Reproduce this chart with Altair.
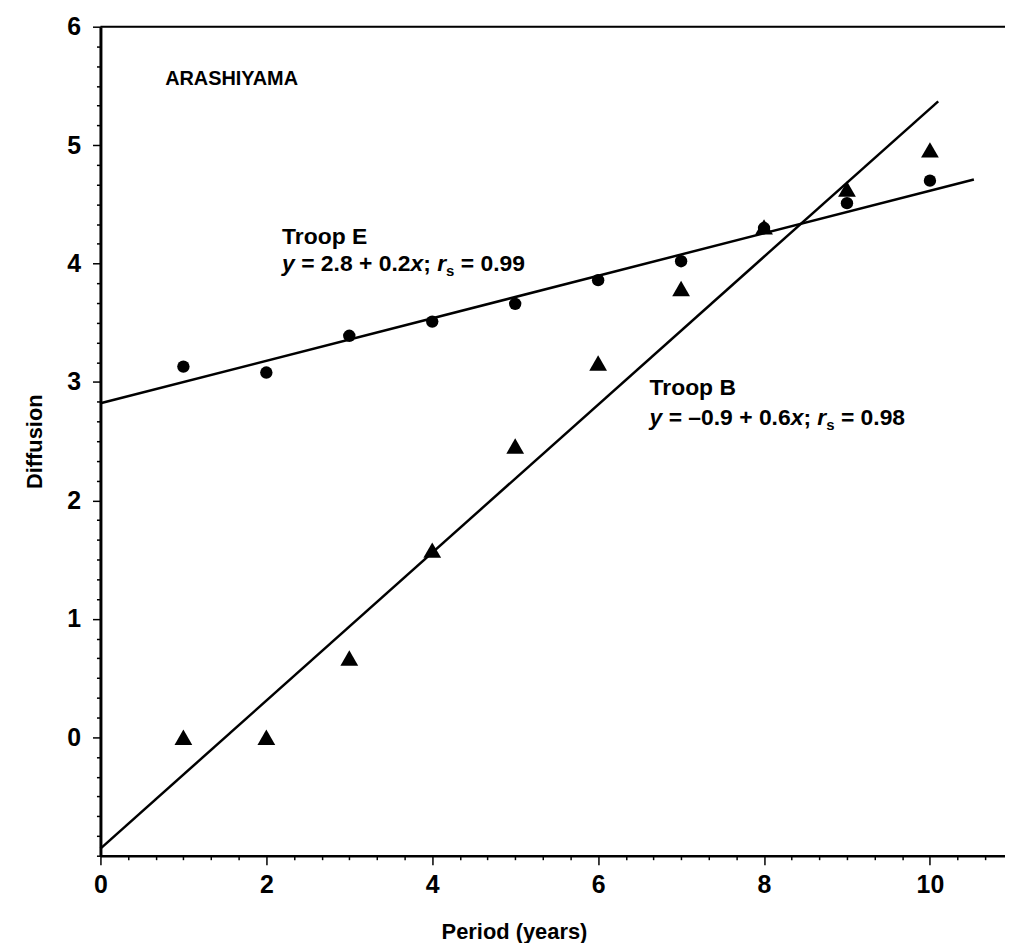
import altair as alt
import pandas as pd

# ---------------- data ----------------
period = [1, 2, 3, 4, 5, 6, 7, 8, 9, 10]
troop_e = [3.13, 3.08, 3.39, 3.51, 3.66, 3.86, 4.02, 4.30, 4.51, 4.70]
troop_b = [0.00, 0.00, 0.67, 1.58, 2.46, 3.16, 3.79, 4.31, 4.63, 4.96]

fit_e_x = [0.0, 10.53]
fit_e_y = [2.82, 4.71]
fit_b_x = [0.0, 10.10]
fit_b_y = [-0.94, 5.37]

x_tick_values = [round(i / 3, 4) for i in range(33)]
y_tick_values = [round(-1 + i / 6, 4) for i in range(43)]

x_domain = [0, 10.905]
y_domain = [-1, 6]

FONT = "Liberation Sans"
W, H = 910, 834

points = pd.DataFrame({
    "period": period + period,
    "value": troop_e + troop_b,
    "troop": ["E"] * len(period) + ["B"] * len(period),
})
fits = pd.DataFrame({
    "x": fit_e_x + fit_b_x,
    "y": fit_e_y + fit_b_y,
    "troop": ["E", "E", "B", "B"],
})

x_scale = alt.Scale(domain=x_domain, nice=False, zero=False)
y_scale = alt.Scale(domain=y_domain, nice=False, zero=False)

x_major = "abs(datum.value - round(datum.value)) < 0.01 && round(datum.value) % 2 === 0"
y_major = "abs(datum.value - round(datum.value)) < 0.01 && datum.value > -0.5"

x_axis = alt.Axis(
    values=x_tick_values, tickCount=len(x_tick_values) + 5,
    title="Period (years)", grid=False,
    labelExpr=f"({x_major}) ? format(round(datum.value), 'd') : ''",
    labelOverlap=False, labelFlush=False,
    tickSize={"condition": {"test": x_major, "value": 9}, "value": 4},
    tickWidth=1.5, tickColor="black",
    domainWidth=2.5, domainColor="black",
    labelFont=FONT, labelFontWeight="bold", labelFontSize=25, labelColor="black",
    labelPadding=8,
    titleFont=FONT, titleFontWeight="bold", titleFontSize=22, titleColor="black",
    titlePadding=24, titleX=416, titleAlign="center",
)
y_axis = alt.Axis(
    values=y_tick_values, tickCount=len(y_tick_values) + 5,
    title="Diffusion", grid=False,
    labelExpr=f"({y_major}) ? format(round(datum.value), 'd') : ''",
    labelOverlap=False, labelFlush=False,
    tickSize={"condition": {"test": y_major, "value": 8}, "value": 4},
    tickWidth=1.5, tickColor="black",
    domainWidth=3, domainColor="black",
    labelFont=FONT, labelFontWeight="bold", labelFontSize=25, labelColor="black",
    labelPadding=12,
    titleFont=FONT, titleFontWeight="bold", titleFontSize=22, titleColor="black",
    titlePadding=20,
)

base_pts = alt.Chart(points)
circles = base_pts.transform_filter(alt.datum.troop == "E").mark_point(
    shape="circle", filled=True, color="black", size=155, opacity=1
).encode(
    x=alt.X("period:Q", scale=x_scale, axis=x_axis),
    y=alt.Y("value:Q", scale=y_scale, axis=y_axis),
)
triangles = base_pts.transform_filter(alt.datum.troop == "B").mark_point(
    shape="triangle-up", filled=True, color="black", size=320, opacity=1
).encode(x="period:Q", y="value:Q")

lines = alt.Chart(fits).mark_line(color="black", strokeWidth=2.5).encode(
    x="x:Q", y="y:Q", detail="troop:N"
)

top_border = alt.Chart(pd.DataFrame({"a": [0]})).mark_rule(color="black", strokeWidth=2).encode(
    x=alt.datum(x_domain[0]), x2=alt.datum(x_domain[1]), y=alt.datum(y_domain[1])
)

# ---------------- annotations ----------------
WIDTHS = {" ": 278, "=": 584, "+": 584, ".": 278, ";": 333, "–": 556,
          "x": 556, "y": 556, "r": 389, "s": 556}
for d in "0123456789":
    WIDTHS[d] = 556


def text_width(s, size):
    return sum(WIDTHS.get(c, 556) for c in s) * size / 1000.0


def text_layer(x, y, text, size=22, style="normal", dx=0, dy=0):
    return alt.Chart(pd.DataFrame({"t": [text]})).mark_text(
        font=FONT, fontWeight="bold", fontStyle=style, fontSize=size,
        align="left", baseline="alphabetic", color="black", dx=dx, dy=dy,
    ).encode(x=alt.datum(x), y=alt.datum(y), text="t:N")


def equation(x, y, parts):
    layers = []
    offset = 0.0
    for txt, style, size, dy in parts:
        lead = len(txt) - len(txt.lstrip(" "))
        shown = txt.strip(" ")
        layers.append(text_layer(x, y, shown, size=size, style=style,
                                 dx=offset + text_width(" " * lead, size), dy=dy))
        offset += text_width(txt, size)
    return layers


EQ = 23
SUB = 15
eq_e = [("y", "italic", EQ, 0), (" = 2.8 + 0.2", "normal", EQ, 0), ("x", "italic", EQ, 0),
        ("; ", "normal", EQ, 0), ("r", "italic", EQ, 0), ("s", "normal", SUB, 5),
        (" = 0.99", "normal", EQ, 0)]
eq_b = [("y", "italic", EQ, 0), (" = –0.9 + 0.6", "normal", EQ, 0), ("x", "italic", EQ, 0),
        ("; ", "normal", EQ, 0), ("r", "italic", EQ, 0), ("s", "normal", SUB, 5),
        (" = 0.98", "normal", EQ, 0)]

annotations = [
    text_layer(0.78, 5.505, "ARASHIYAMA", size=20),
    text_layer(2.19, 4.165, "Troop E", size=23),
    text_layer(6.62, 2.89, "Troop B", size=23),
]
annotations += equation(2.19, 3.94, eq_e)
annotations += equation(6.62, 2.64, eq_b)

chart = alt.layer(circles, triangles, lines, top_border, *annotations).properties(
    width=W, height=H,
    autosize=alt.AutoSizeParams(type="none"),
    padding={"left": 93, "top": 16, "right": 0, "bottom": 85},
).configure_view(stroke=None).configure(background="white")

chart.save("out.html", embed_options={"renderer": "svg", "actions": False})
